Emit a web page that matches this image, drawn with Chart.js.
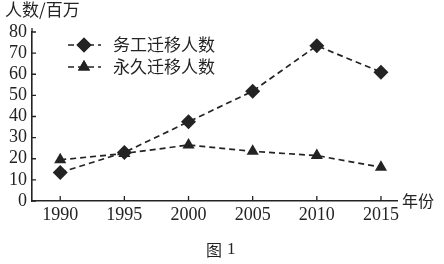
<!DOCTYPE html>
<html>
<head>
<meta charset="utf-8">
<style>
  html, body { margin: 0; padding: 0; background: #fff; }
  #wrap { width: 444px; height: 264px; position: relative; }
</style>
<script src="https://cdn.jsdelivr.net/npm/chart.js@4/dist/chart.umd.min.js"></script>
</head>
<body>
<div id="wrap"><canvas id="grafico"></canvas></div>
<script>
const anios = [1990, 1995, 2000, 2005, 2010, 2015];
const trabajoMigrante = [13.5, 23, 37.5, 52, 73.5, 61];
const migracionPermanente = [19.5, 22.5, 26.5, 23.5, 21.5, 16];
const marcasY = [0, 10, 20, 30, 40, 50, 60, 70, 80];
const nombresSeries = ['务工迁移人数', '永久迁移人数'];

const tinta = '#232323';
const cjk = '"Noto Sans CJK SC", sans-serif';
const serif = '"Liberation Serif", "DejaVu Serif", serif';

function puntos(valores) {
    return anios.map((a, i) => ({ x: a, y: valores[i] }));
}

function serie(label, valores, estilo, radio) {
    return {
        label,
        data: puntos(valores),
        borderColor: tinta,
        backgroundColor: tinta,
        borderWidth: 1.7,
        borderDash: [6, 4],
        pointStyle: estilo,
        pointRadius: radio,
        pointBorderWidth: 0,
        tension: 0
    };
}

// marcas hacia dentro, leyenda y textos sueltos
const extras = {
    id: 'extras',
    afterDraw(chart) {
        const ctx = chart.ctx;
        const x = chart.scales.x, y = chart.scales.y;
        const area = chart.chartArea;
        ctx.save();
        ctx.strokeStyle = tinta;
        ctx.lineWidth = 1.3;
        ctx.beginPath();
        anios.forEach(a => {
            const px = x.getPixelForValue(a);
            ctx.moveTo(px, area.bottom);
            ctx.lineTo(px, area.bottom - 5);
        });
        marcasY.forEach(v => {
            const py = y.getPixelForValue(v);
            ctx.moveTo(area.left, py);
            ctx.lineTo(area.left + 4, py);
        });
        ctx.moveTo(area.left, area.top);
        ctx.lineTo(area.left, area.top - 4);
        ctx.stroke();

        // leyenda
        chart.data.datasets.forEach((ds, i) => {
            const ly = 45 + i * 22;
            ctx.setLineDash(ds.borderDash);
            ctx.lineWidth = ds.borderWidth;
            ctx.beginPath();
            ctx.moveTo(68, ly);
            ctx.lineTo(101, ly);
            ctx.stroke();
            ctx.setLineDash([]);
            ctx.fillStyle = tinta;
            Chart.helpers.drawPoint(ctx, { pointStyle: ds.pointStyle, radius: ds.pointRadius, borderWidth: 0 }, 84, ly);
            ctx.fill();
            ctx.font = '17px ' + cjk;
            ctx.textBaseline = 'middle';
            ctx.textAlign = 'left';
            ctx.fillText(nombresSeries[i], 113, ly);
        });

        ctx.fillStyle = tinta;
        ctx.textBaseline = 'middle';
        ctx.font = '17px ' + cjk;
        ctx.fillText('人数/百万', 5, 10);
        ctx.font = '16px ' + cjk;
        ctx.fillText('年份', 402, 201);
        ctx.fillText('图', 206, 250);
        ctx.font = '17px ' + serif;
        ctx.fillText('1', 227, 250);
        ctx.restore();
    }
};

new Chart(document.getElementById('grafico'), {
    type: 'line',
    data: {
        datasets: [
            serie(nombresSeries[0], trabajoMigrante, 'rectRot', 7.5),
            serie(nombresSeries[1], migracionPermanente, 'triangle', 7)
        ]
    },
    options: {
        responsive: true,
        maintainAspectRatio: false,
        animation: false,
        layout: { padding: { left: 0, top: 32, right: 47, bottom: 0 } },
        plugins: {
            legend: { display: false },
            tooltip: { enabled: false }
        },
        scales: {
            x: {
                type: 'linear',
                min: 1987.8,
                max: 2016.25,
                afterBuildTicks: s => { s.ticks = anios.map(v => ({ value: v })); },
                afterFit: s => { s.height = 63; },
                grid: { display: false, drawTicks: false },
                border: { display: true, color: tinta, width: 1.6 },
                ticks: {
                    color: tinta,
                    padding: 3,
                    autoSkip: false,
                    maxRotation: 0,
                    font: { family: serif, size: 18 },
                    callback: v => String(v)
                }
            },
            y: {
                min: 0,
                max: 80,
                afterBuildTicks: s => { s.ticks = marcasY.map(v => ({ value: v })); },
                afterFit: s => { s.width = 32; },
                grid: { display: false, drawTicks: false },
                border: { display: true, color: tinta, width: 1.6 },
                ticks: {
                    color: tinta,
                    padding: 5,
                    autoSkip: false,
                    font: { family: serif, size: 18 }
                }
            }
        }
    },
    plugins: [extras]
});
</script>
</body>
</html>
